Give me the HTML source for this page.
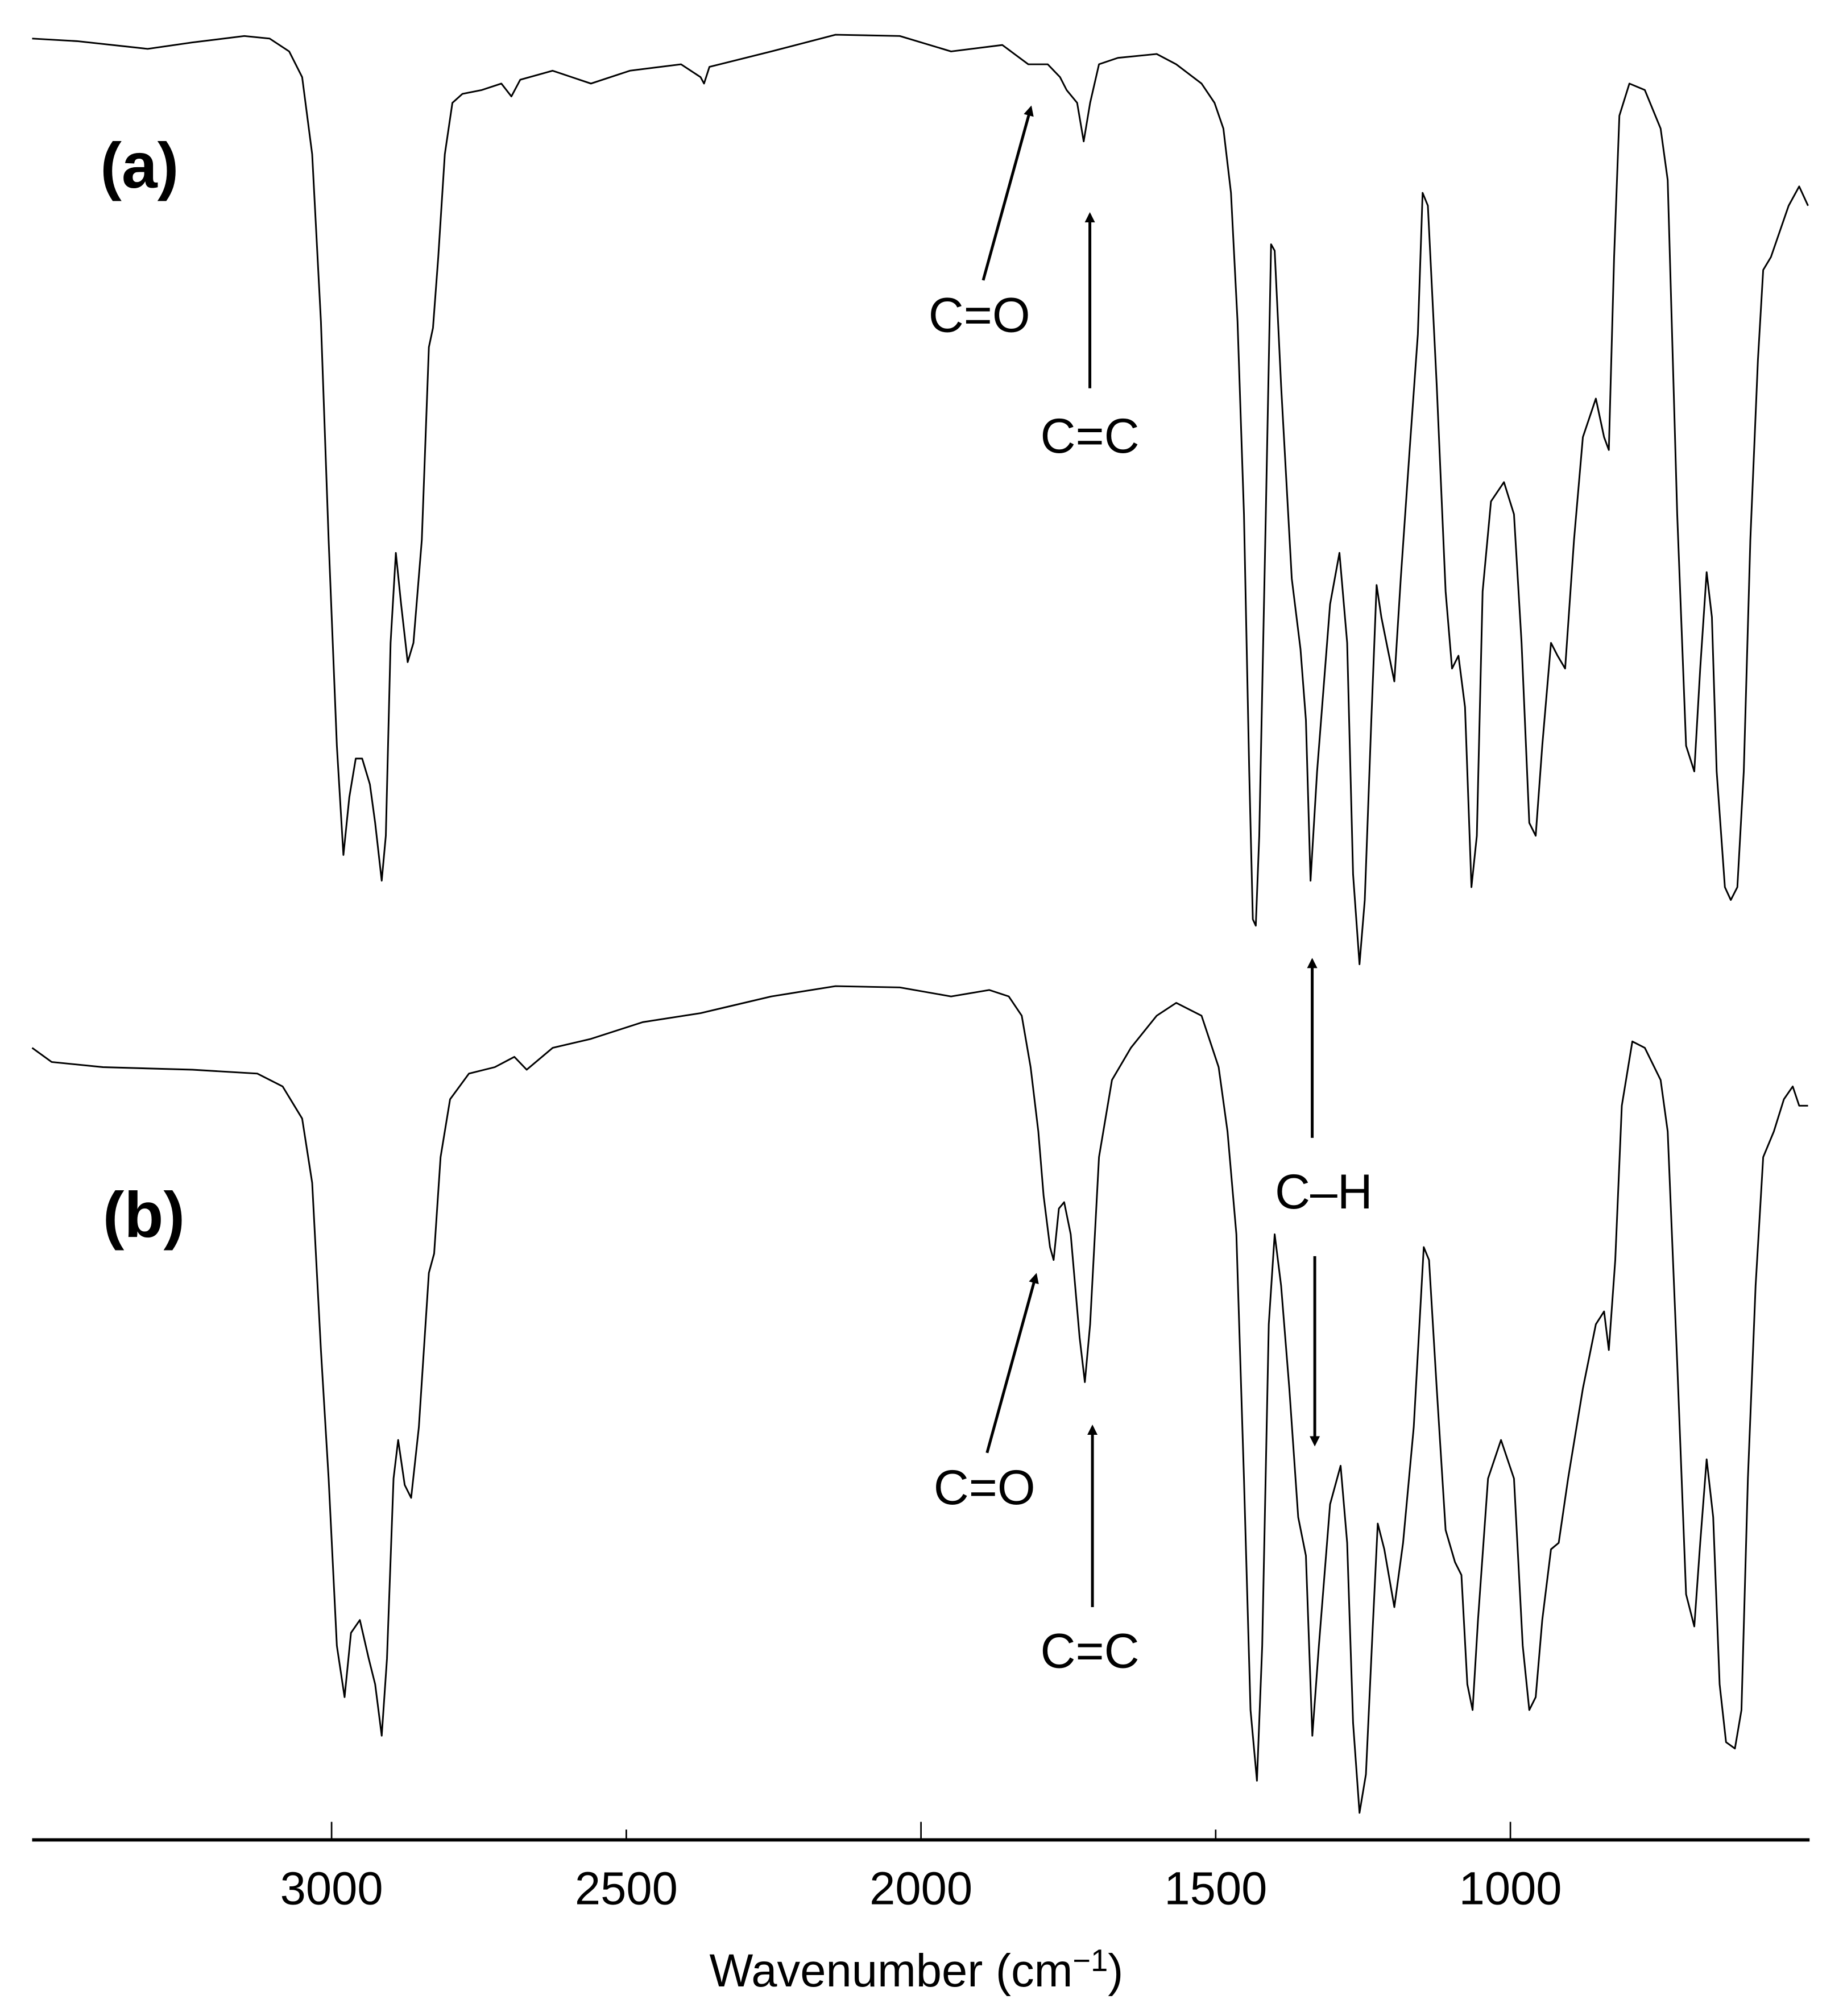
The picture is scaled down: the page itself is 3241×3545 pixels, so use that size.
<!DOCTYPE html>
<html><head><meta charset="utf-8"><style>
html,body{margin:0;padding:0;background:#fff}
svg{display:block}
text{font-family:"Liberation Sans",sans-serif;fill:#000}
</style></head><body>
<svg id="chart" width="3241" height="3545" viewBox="0 0 1434 1568" preserveAspectRatio="none" xmlns="http://www.w3.org/2000/svg">
<defs><marker id="ah" markerWidth="8" markerHeight="8" refX="6" refY="4" orient="auto" markerUnits="userSpaceOnUse"><path d="M0,0 L8,4 L0,8 Z" fill="#000"/></marker></defs>
<g id="curves"></g>
<g id="axis"></g>
<text x="78" y="146" font-size="50" font-weight="bold">(a)</text>
<text x="80" y="962" font-size="50" font-weight="bold">(b)</text>
<g stroke="#000" stroke-width="2.2" fill="none">
<line x1="765" y1="218" x2="802" y2="84" marker-end="url(#ah)"/>
<line x1="848" y1="302" x2="848" y2="167" marker-end="url(#ah)"/>
<line x1="1021" y1="885" x2="1021" y2="747" marker-end="url(#ah)"/>
<line x1="1023" y1="977" x2="1023" y2="1123" marker-end="url(#ah)"/>
<line x1="768" y1="1130" x2="806" y2="992" marker-end="url(#ah)"/>
<line x1="850" y1="1250" x2="850" y2="1110" marker-end="url(#ah)"/>
</g>
<text x="762" y="258" font-size="38" text-anchor="middle">C=O</text>
<text x="848" y="352" font-size="38" text-anchor="middle">C=C</text>
<text x="1030" y="940" font-size="38" text-anchor="middle">C–H</text>
<text x="766" y="1170" font-size="38" text-anchor="middle">C=O</text>
<text x="848" y="1297" font-size="38" text-anchor="middle">C=C</text>
<text x="713" y="1545" font-size="36" text-anchor="middle">Wavenumber (cm<tspan dy="-12" font-size="24">−1</tspan><tspan dy="12">)</tspan></text>
</svg>
<script>
const wnA=[3508,3432,3312,3236,3148,3105,3072,3050,3033,3018,3005,2991,2980,2970,2959,2948,2935,2926,2915,2908,2900,2891,2882,2871,2861,2847,2835,2828,2819,2808,2795,2778,2745,2712,2695,2680,2625,2560,2494,2407,2374,2368,2359,2254,2145,2036,1949,1862,1818,1785,1764,1753,1735,1724,1713,1698,1666,1600,1567,1524,1502,1487,1474,1463,1452,1443,1437,1432,1426,1415,1406,1400,1389,1371,1356,1347,1339,1328,1306,1290,1277,1267,1256,1247,1236,1227,1219,1208,1197,1186,1171,1157,1149,1140,1125,1110,1099,1088,1077,1066,1057,1047,1033,1011,994,981,968,957,946,931,920,907,892,877,855,841,833,824,815,798,772,745,733,717,702,688,678,667,658,650,636,626,615,604,593,580,571,558,543,528,510,495];
const tA=[730,728,722,727,732,730,720,700,640,510,340,180,95,140,170,170,150,120,75,110,260,330,290,245,260,340,490,505,560,640,680,687,690,695,685,698,705,695,705,710,700,695,708,720,733,732,720,725,710,710,700,690,680,650,680,710,715,718,710,695,680,660,610,510,360,160,45,40,110,360,570,565,460,310,255,200,75,160,290,330,260,80,10,60,200,305,280,255,230,310,410,500,610,600,460,300,240,250,210,70,110,300,370,385,360,260,120,110,180,260,250,240,340,420,450,420,410,560,670,695,690,660,620,360,180,160,240,315,280,160,70,60,70,160,340,480,550,560,580,600,615,600];
const wnB=[3508,3475,3388,3236,3126,3083,3050,3033,3018,3005,2991,2978,2967,2952,2937,2926,2915,2906,2895,2887,2876,2865,2852,2835,2826,2815,2799,2767,2723,2690,2669,2625,2560,2472,2374,2254,2145,2036,1949,1884,1851,1829,1814,1801,1792,1781,1775,1766,1757,1746,1731,1722,1713,1698,1676,1644,1600,1567,1524,1495,1480,1465,1452,1441,1430,1421,1410,1400,1389,1375,1360,1347,1336,1325,1306,1288,1277,1267,1256,1245,1234,1225,1214,1197,1182,1164,1147,1138,1125,1110,1094,1083,1073,1064,1055,1038,1016,994,979,968,957,946,931,918,902,877,855,841,833,822,811,793,772,745,733,717,702,688,678,667,656,645,634,619,608,597,584,571,553,536,521,510,495];
const tB=[605,594,590,588,585,575,550,500,370,270,140,100,150,160,130,110,70,130,270,300,265,255,310,430,445,520,565,585,590,598,588,605,612,625,632,645,653,652,645,650,645,630,590,540,490,450,440,480,485,460,380,345,390,520,580,605,630,640,630,590,540,460,270,90,35,140,390,460,420,340,240,210,70,140,250,280,220,80,10,40,150,235,215,170,220,310,450,440,340,230,205,195,110,90,160,270,300,270,140,90,100,160,215,220,270,340,390,400,370,440,560,610,605,580,540,360,180,155,220,285,240,110,65,60,90,270,420,520,540,565,575,560,560];
const X0=258, K=0.4586;
function xs(w){return X0+(3000-w)*K;}
function ysA(t){return 760-t;}
function ysB(t){return 1420-t;}
const NS="http://www.w3.org/2000/svg";
const cg=document.getElementById('curves');
function draw(wn,t,ys,name){
  let d='';
  for(let i=0;i<wn.length;i++){d+=(i?'L':'M')+xs(wn[i]).toFixed(1)+','+ys(t[i]).toFixed(1);}
  const p=document.createElementNS(NS,'path');
  p.setAttribute('d',d);p.setAttribute('fill','none');p.setAttribute('stroke','#000');
  p.setAttribute('stroke-width','1.3');p.setAttribute('stroke-linejoin','round');
  
  
  cg.appendChild(p);
}
draw(wnA,tA,ysA,'spectrum-a');
draw(wnB,tB,ysB,'spectrum-b');
const ticks=[3000,2500,2000,1500,1000];
const tickLabels=['3000','2500','2000','1500','1000'];
const ag=document.getElementById('axis');
const ax=document.createElementNS(NS,'line');
ax.setAttribute('x1','25');ax.setAttribute('x2','1408');ax.setAttribute('y1','1431');ax.setAttribute('y2','1431');
ax.setAttribute('stroke','#000');ax.setAttribute('stroke-width','2.6');


ag.appendChild(ax);
ticks.forEach((w,i)=>{
  const major=(w%1000===0);
  const l=document.createElementNS(NS,'line');
  l.setAttribute('x1',xs(w));l.setAttribute('x2',xs(w));
  l.setAttribute('y1',1431);l.setAttribute('y2',major?1417:1423);
  l.setAttribute('stroke','#000');l.setAttribute('stroke-width','1.2');
  
  
  ag.appendChild(l);
  const tx=document.createElementNS(NS,'text');
  tx.setAttribute('x',xs(w));tx.setAttribute('y',1481);
  tx.setAttribute('font-size','36');tx.setAttribute('text-anchor','middle');
  tx.textContent=tickLabels[i];
  
  
  ag.appendChild(tx);
});
</script>
</body></html>
